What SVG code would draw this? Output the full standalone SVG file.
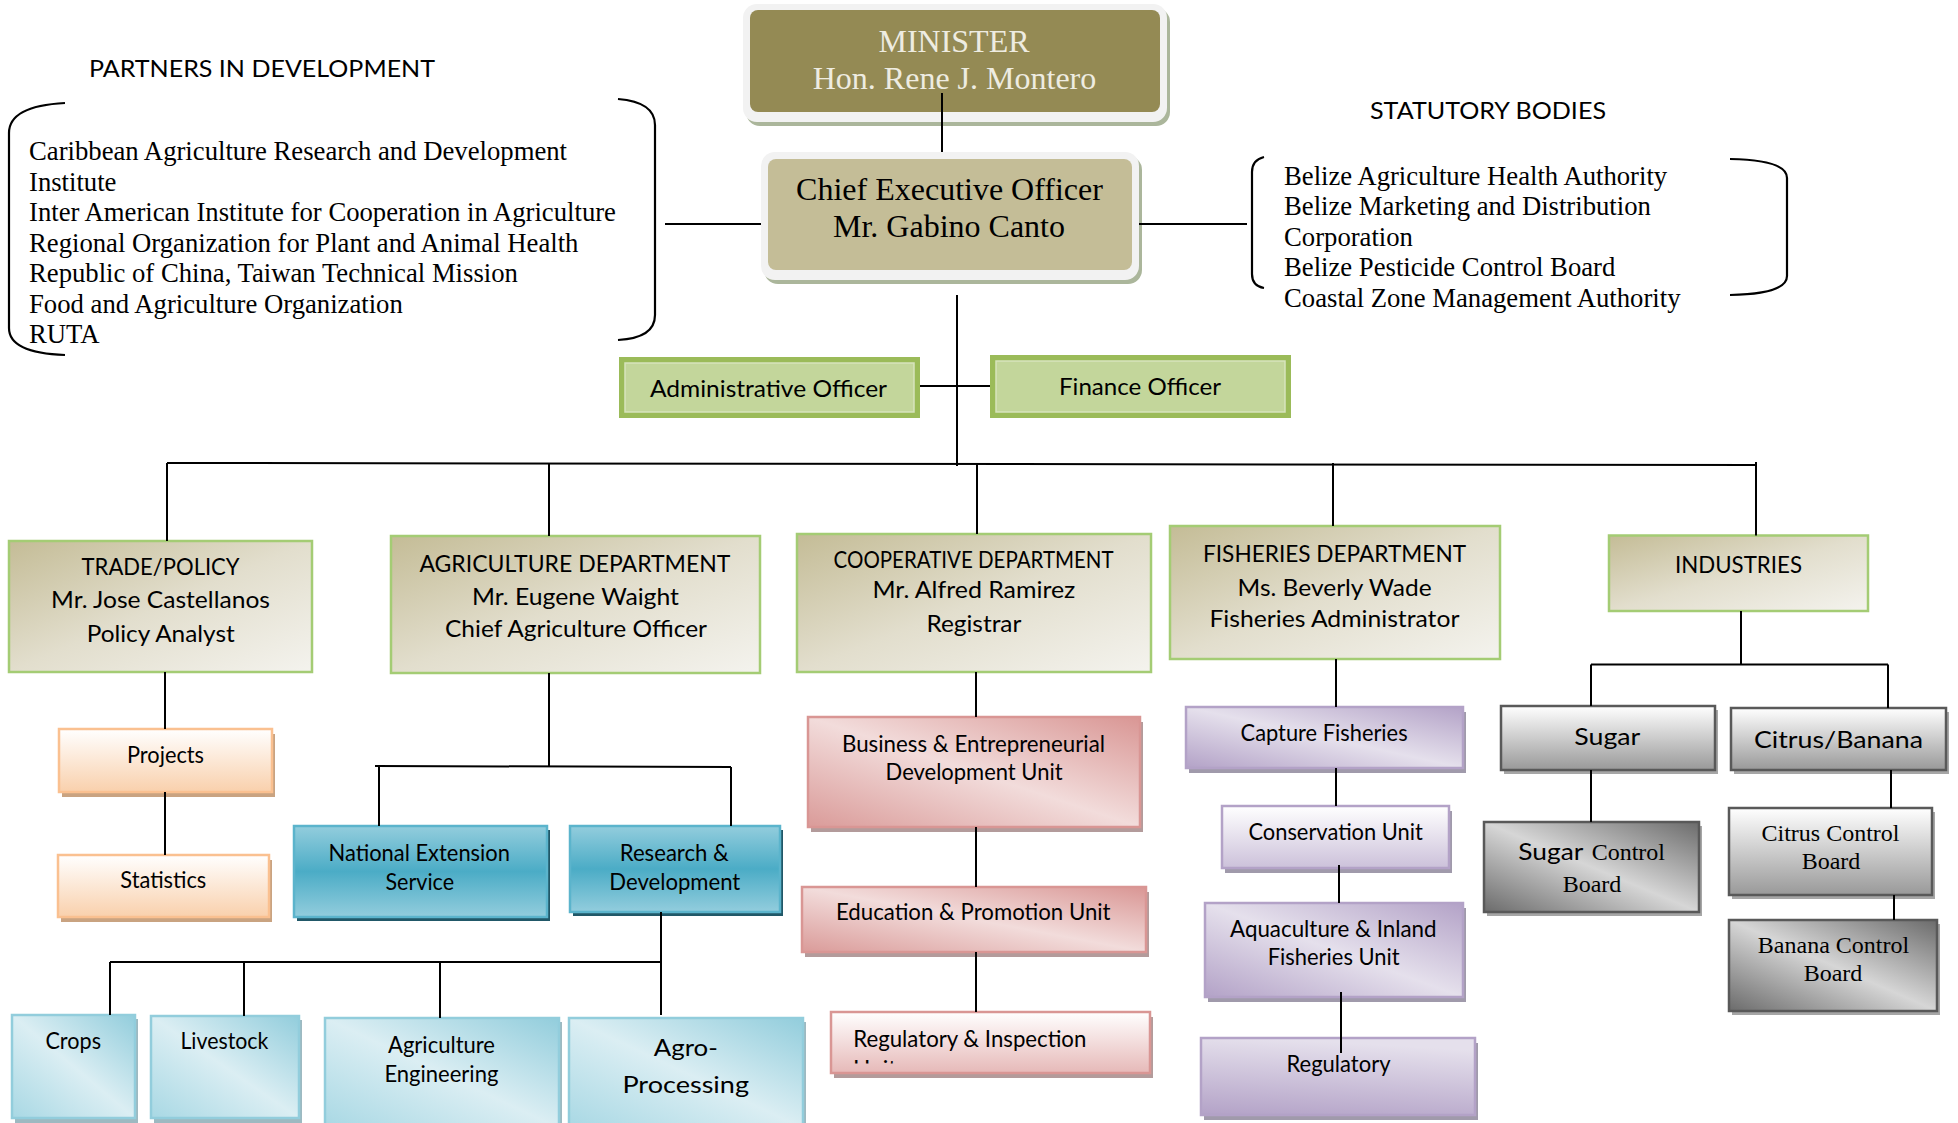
<svg xmlns="http://www.w3.org/2000/svg" width="1958" height="1123" viewBox="0 0 1958 1123">
<style>
.s{font-family:Lato,"Liberation Sans",sans-serif;fill:#000;font-size:23px}
.t{font-family:"Liberation Serif","Times New Roman",serif;fill:#000}
.ln{stroke:#000;stroke-width:2;fill:none}
.br{stroke:#000;stroke-width:2.2;fill:none}
.dept{fill:url(#gDept);stroke:#A4CC74;stroke-width:2.5}
.org{fill:url(#gOrg);stroke:#FAC090;stroke-width:2.5}
.orgS{fill:#C9A381}
.teal{fill:url(#gTeal);stroke:#5BB4CC;stroke-width:2.5}
.tealS{fill:#215868}
.lb{fill:url(#gLB);stroke:#92CDDC;stroke-width:2.5}
.lbS{fill:#9DB9C1}
.pk{fill:url(#gPk);stroke:#D99694;stroke-width:2.5}
.pkV{fill:url(#gPkV);stroke:#D99694;stroke-width:2.5}
.pkS{fill:#B39B9B}
.pu{fill:url(#gPu);stroke:#B3A2C7;stroke-width:2.5}
.puV{fill:url(#gPuV);stroke:#B3A2C7;stroke-width:2.5}
.puR{fill:url(#gPuR);stroke:#B3A2C7;stroke-width:2.5}
.puS{fill:#A09AAB}
.gv{fill:url(#gGV);stroke:#595959;stroke-width:2.5}
.gd{fill:url(#gGD);stroke:#595959;stroke-width:2.5}
.gS{fill:#A6A6A6}
.frame{fill:#F2F2F2}
.frameS{fill:#ABB69B}
.grn{fill:#9BBB59}
.grnI{fill:#C3D69B;stroke:#D7E4BD;stroke-width:1.5}
</style>
<defs>
<linearGradient id="gDept" x1="0" y1="0" x2="1" y2="1"><stop offset="0" stop-color="#C4BC96"/><stop offset="0.5" stop-color="#E2DECD"/><stop offset="1" stop-color="#F4F3EE"/></linearGradient>
<linearGradient id="gOrg" x1="0" y1="0" x2="0" y2="1"><stop offset="0" stop-color="#FFFFFF"/><stop offset="1" stop-color="#F9D0AC"/></linearGradient>
<linearGradient id="gTeal" x1="0" y1="0" x2="0" y2="1"><stop offset="0" stop-color="#93CDDD"/><stop offset="0.5" stop-color="#4BACC6"/><stop offset="1" stop-color="#93CDDD"/></linearGradient>
<linearGradient id="gLB" x1="1" y1="0" x2="0" y2="1"><stop offset="0" stop-color="#92CDDC"/><stop offset="0.5" stop-color="#DBEEF3"/><stop offset="1" stop-color="#A8D8E4"/></linearGradient>
<linearGradient id="gPk" x1="1" y1="0" x2="0" y2="1"><stop offset="0" stop-color="#D99694"/><stop offset="0.5" stop-color="#F2DCDB"/><stop offset="1" stop-color="#DA9B99"/></linearGradient>
<linearGradient id="gPkV" x1="0" y1="0" x2="0" y2="1"><stop offset="0" stop-color="#FFFFFF"/><stop offset="1" stop-color="#E6B9B8"/></linearGradient>
<linearGradient id="gPu" x1="1" y1="0" x2="0" y2="1"><stop offset="0" stop-color="#B3A2C7"/><stop offset="0.5" stop-color="#E5E0EC"/><stop offset="1" stop-color="#B3A2C7"/></linearGradient>
<linearGradient id="gPuV" x1="0" y1="0" x2="0" y2="1"><stop offset="0" stop-color="#FFFFFF"/><stop offset="1" stop-color="#CCC1DA"/></linearGradient>
<linearGradient id="gPuR" x1="0.2" y1="0" x2="0" y2="1"><stop offset="0" stop-color="#E5E0EC"/><stop offset="1" stop-color="#B3A2C7"/></linearGradient>
<linearGradient id="gGV" x1="0" y1="0" x2="0" y2="1"><stop offset="0" stop-color="#FFFFFF"/><stop offset="1" stop-color="#999999"/></linearGradient>
<linearGradient id="gGD" x1="1" y1="0" x2="0" y2="1"><stop offset="0" stop-color="#6B6B6B"/><stop offset="0.5" stop-color="#D6D6D6"/><stop offset="1" stop-color="#6B6B6B"/></linearGradient>
<clipPath id="clipReg"><rect x="831" y="1012" width="319" height="51.5"/></clipPath>
</defs>
<rect width="1958" height="1123" fill="#FFFFFF"/>

<g id="partners">
<text class="s" x="89" y="77" font-size="24.5" textLength="346" lengthAdjust="spacingAndGlyphs">PARTNERS IN DEVELOPMENT</text>
<path class="br" d="M65 103 Q9 106 9 133 L9 328 Q9 353 65 355"/>
<path class="br" d="M618 99 Q655 102 655 125 L655 315 Q655 338 618 340"/>
<g class="t" font-size="26.7">
<text x="29" y="160">Caribbean Agriculture Research and Development</text>
<text x="29" y="190.6">Institute</text>
<text x="29" y="221.1">Inter American Institute for Cooperation in Agriculture</text>
<text x="29" y="251.7">Regional Organization for Plant and Animal Health</text>
<text x="29" y="282.2">Republic of China, Taiwan Technical Mission</text>
<text x="29" y="312.8">Food and Agriculture Organization</text>
<text x="29" y="343.3">RUTA</text>
</g>
</g>

<g id="statutory">
<text class="s" x="1370" y="119" font-size="23.5" textLength="236" lengthAdjust="spacingAndGlyphs">STATUTORY BODIES</text>
<path class="br" d="M1264 157 Q1252 160 1252 172 L1252 274 Q1252 286 1264 288"/>
<path class="br" d="M1730 159 Q1787 160 1787 178 L1787 276 Q1787 294 1730 295"/>
<g class="t" font-size="26.7">
<text x="1284" y="185">Belize Agriculture Health Authority</text>
<text x="1284" y="215.4">Belize Marketing and Distribution</text>
<text x="1284" y="245.8">Corporation</text>
<text x="1284" y="276.2">Belize Pesticide Control Board</text>
<text x="1284" y="306.6">Coastal Zone Management Authority</text>
</g>
</g>

<g id="minister">
<rect class="frameS" x="746" y="8" width="424" height="118" rx="14"/>
<rect class="frame" x="743" y="4" width="424" height="118" rx="14"/>
<rect x="750" y="10" width="410" height="102" rx="8" fill="#948A54"/>
<text class="t" x="954" y="52" font-size="32" text-anchor="middle" style="fill:#EEECE1">MINISTER</text>
<text class="t" x="954.5" y="89" font-size="32" text-anchor="middle" style="fill:#EEECE1">Hon. Rene J. Montero</text>
</g>

<g id="ceo">
<rect class="frameS" x="764" y="156" width="378" height="128" rx="14"/>
<rect class="frame" x="761" y="152" width="378" height="128" rx="14"/>
<rect x="768" y="159" width="364" height="111" rx="8" fill="#C4BD97"/>
<text class="t" x="949.5" y="200" font-size="32" text-anchor="middle">Chief Executive Officer</text>
<text class="t" x="949" y="237" font-size="32" text-anchor="middle">Mr. Gabino Canto</text>
</g>

<g id="admin">
<rect class="grn" x="619" y="357" width="301" height="61"/>
<rect class="grnI" x="625" y="363" width="289" height="49"/>
<text class="s" x="650" y="397" textLength="237" lengthAdjust="spacingAndGlyphs">Administrative Officer</text>
</g>

<g id="finance">
<rect class="grn" x="990" y="355" width="301" height="63"/>
<rect class="grnI" x="996" y="361" width="289" height="51"/>
<text class="s" x="1059" y="395" textLength="162" lengthAdjust="spacingAndGlyphs">Finance Officer</text>
</g>

<g id="trade">
<rect class="dept" x="9" y="541" width="303" height="131"/>
<text class="s" x="81.6" y="575" font-size="22.5" textLength="158" lengthAdjust="spacingAndGlyphs">TRADE/POLICY</text>
<text class="s" x="51" y="608" textLength="219" lengthAdjust="spacingAndGlyphs">Mr. Jose Castellanos</text>
<text class="s" x="86.7" y="642" textLength="148" lengthAdjust="spacingAndGlyphs">Policy Analyst</text>
</g>

<g id="agriculture">
<rect class="dept" x="391" y="536" width="369" height="137"/>
<text class="s" x="419.4" y="572" textLength="311" lengthAdjust="spacingAndGlyphs">AGRICULTURE DEPARTMENT</text>
<text class="s" x="472" y="605" textLength="207" lengthAdjust="spacingAndGlyphs">Mr. Eugene Waight</text>
<text class="s" x="445" y="637" textLength="262" lengthAdjust="spacingAndGlyphs">Chief Agriculture Officer</text>
</g>

<g id="cooperative">
<rect class="dept" x="797" y="534" width="354" height="138"/>
<text class="s" x="833.6" y="568" font-size="21" textLength="280" lengthAdjust="spacingAndGlyphs">COOPERATIVE DEPARTMENT</text>
<text class="s" x="872.4" y="598" textLength="203" lengthAdjust="spacingAndGlyphs">Mr. Alfred Ramirez</text>
<text class="s" x="926.4" y="632" textLength="95" lengthAdjust="spacingAndGlyphs">Registrar</text>
</g>

<g id="fisheries">
<rect class="dept" x="1170" y="526" width="330" height="133"/>
<text class="s" x="1203" y="562" textLength="263" lengthAdjust="spacingAndGlyphs">FISHERIES DEPARTMENT</text>
<text class="s" x="1237.6" y="596" textLength="194" lengthAdjust="spacingAndGlyphs">Ms. Beverly Wade</text>
<text class="s" x="1209.4" y="627" textLength="250" lengthAdjust="spacingAndGlyphs">Fisheries Administrator</text>
</g>

<g id="industries">
<rect class="dept" x="1609" y="535.5" width="259" height="75.5"/>
<text class="s" x="1675" y="573" textLength="127" lengthAdjust="spacingAndGlyphs">INDUSTRIES</text>
</g>

<g id="projects">
<rect class="orgS" x="62" y="734" width="213" height="63"/>
<rect class="org" x="59" y="729" width="213" height="63"/>
<text class="s" x="127" y="763" font-size="22" textLength="77" lengthAdjust="spacingAndGlyphs">Projects</text>
</g>

<g id="statistics">
<rect class="orgS" x="61" y="860" width="211" height="62"/>
<rect class="org" x="58" y="855" width="211" height="62"/>
<text class="s" x="120.3" y="888" font-size="22" textLength="86" lengthAdjust="spacingAndGlyphs">Statistics</text>
</g>

<g id="nes">
<rect class="tealS" x="297" y="830" width="253" height="91"/>
<rect class="teal" x="294" y="826" width="253" height="91"/>
<text class="s" x="328.5" y="861" font-size="22.5" textLength="181.5" lengthAdjust="spacingAndGlyphs">National Extension</text>
<text class="s" x="385.5" y="890" font-size="22.5" textLength="68.5" lengthAdjust="spacingAndGlyphs">Service</text>
</g>

<g id="research">
<rect class="tealS" x="573" y="830" width="210" height="86"/>
<rect class="teal" x="570" y="826" width="210" height="86"/>
<text class="s" x="619.8" y="861" font-size="22.5" textLength="109" lengthAdjust="spacingAndGlyphs">Research &amp;</text>
<text class="s" x="609.3" y="890" font-size="22.5" textLength="131" lengthAdjust="spacingAndGlyphs">Development</text>
</g>

<g id="crops">
<rect class="lbS" x="15" y="1019" width="123" height="106"/>
<rect class="lb" x="12" y="1015" width="123" height="103"/>
<text class="s" x="45.5" y="1049" font-size="21.5" textLength="55.5" lengthAdjust="spacingAndGlyphs">Crops</text>
</g>

<g id="livestock">
<rect class="lbS" x="154" y="1020" width="148" height="105"/>
<rect class="lb" x="151" y="1016" width="148" height="102"/>
<text class="s" x="180.4" y="1049" font-size="21.5" textLength="88" lengthAdjust="spacingAndGlyphs">Livestock</text>
</g>

<g id="agengineering">
<rect class="lbS" x="328" y="1022" width="234" height="110"/>
<rect class="lb" x="325" y="1018" width="234" height="110"/>
<text class="s" x="388" y="1053" font-size="21.5" textLength="107" lengthAdjust="spacingAndGlyphs">Agriculture</text>
<text class="s" x="384.4" y="1082" font-size="21.5" textLength="114" lengthAdjust="spacingAndGlyphs">Engineering</text>
</g>

<g id="agroprocessing">
<rect class="lbS" x="572" y="1022" width="234" height="110"/>
<rect class="lb" x="569" y="1018" width="234" height="110"/>
<text class="s" x="653.8" y="1056" font-size="25" textLength="64" lengthAdjust="spacingAndGlyphs">Agro-</text>
<text class="s" x="622.4" y="1093" font-size="25" textLength="126.6" lengthAdjust="spacingAndGlyphs">Processing</text>
</g>

<g id="business">
<rect class="pkS" x="811" y="722" width="332" height="110"/>
<rect class="pk" x="808" y="717" width="332" height="110"/>
<text class="s" x="842" y="752" font-size="22" textLength="263" lengthAdjust="spacingAndGlyphs">Business &amp; Entrepreneurial</text>
<text class="s" x="885.6" y="780" font-size="22" textLength="177" lengthAdjust="spacingAndGlyphs">Development Unit</text>
</g>

<g id="education">
<rect class="pkS" x="805" y="892" width="344" height="65"/>
<rect class="pk" x="802" y="887" width="344" height="65"/>
<text class="s" x="836" y="920" font-size="22" textLength="274.6" lengthAdjust="spacingAndGlyphs">Education &amp; Promotion Unit</text>
</g>

<g id="reginspection">
<rect class="pkS" x="834" y="1017" width="319" height="61"/>
<rect class="pkV" x="831" y="1012" width="319" height="61"/>
<text class="s" x="853.3" y="1047" font-size="22" textLength="233" lengthAdjust="spacingAndGlyphs">Regulatory &amp; Inspection</text>
<text class="s" x="853.3" y="1076.5" font-size="22" clip-path="url(#clipReg)">Unit</text>
</g>

<g id="capture">
<rect class="puS" x="1189" y="712" width="277" height="61"/>
<rect class="pu" x="1186" y="707" width="277" height="61"/>
<text class="s" x="1240.6" y="741" font-size="22" textLength="167" lengthAdjust="spacingAndGlyphs">Capture Fisheries</text>
</g>

<g id="conservation">
<rect class="puS" x="1225" y="811" width="227" height="62"/>
<rect class="puV" x="1222" y="806" width="227" height="62"/>
<text class="s" x="1248.4" y="840" font-size="22" textLength="174.5" lengthAdjust="spacingAndGlyphs">Conservation Unit</text>
</g>

<g id="aquaculture">
<rect class="puS" x="1208" y="908" width="258" height="94"/>
<rect class="pu" x="1205" y="903" width="258" height="94"/>
<text class="s" x="1230" y="937" font-size="22" textLength="206.6" lengthAdjust="spacingAndGlyphs">Aquaculture &amp; Inland</text>
<text class="s" x="1267.7" y="965" font-size="22" textLength="132" lengthAdjust="spacingAndGlyphs">Fisheries Unit</text>
</g>

<g id="regulatory">
<rect class="puS" x="1204" y="1043" width="274" height="77"/>
<rect class="puR" x="1201" y="1038" width="274" height="77"/>
<text class="s" x="1286.5" y="1072" font-size="22" textLength="104" lengthAdjust="spacingAndGlyphs">Regulatory</text>
</g>

<g id="sugar">
<rect class="gS" x="1504" y="710" width="214" height="64"/>
<rect class="gv" x="1501" y="706" width="214" height="64"/>
<text class="s" x="1574.3" y="744.5" font-size="25" textLength="66" lengthAdjust="spacingAndGlyphs">Sugar</text>
</g>

<g id="citrusbanana">
<rect class="gS" x="1734" y="712" width="215" height="62"/>
<rect class="gv" x="1731" y="708" width="215" height="62"/>
<text class="s" x="1754" y="748" font-size="26" textLength="169" lengthAdjust="spacingAndGlyphs">Citrus/Banana</text>
</g>

<g id="sugarboard">
<rect class="gS" x="1487" y="826" width="215" height="90"/>
<rect class="gd" x="1484" y="822" width="215" height="90"/>
<text class="s" x="1518.3" y="860" font-size="25" textLength="65" lengthAdjust="spacingAndGlyphs">Sugar</text>
<text class="t" x="1591.7" y="860" font-size="24">Control</text>
<text class="t" x="1592" y="892" font-size="24" text-anchor="middle">Board</text>
</g>

<g id="citrusboard">
<rect class="gS" x="1732" y="812" width="203" height="87"/>
<rect class="gv" x="1729" y="808" width="203" height="87"/>
<text class="t" x="1830.5" y="841" font-size="24" text-anchor="middle">Citrus Control</text>
<text class="t" x="1831" y="869" font-size="24" text-anchor="middle">Board</text>
</g>

<g id="bananaboard">
<rect class="gS" x="1732" y="924" width="208" height="91"/>
<rect class="gd" x="1729" y="920" width="208" height="91"/>
<text class="t" x="1833.5" y="953" font-size="24" text-anchor="middle">Banana Control</text>
<text class="t" x="1833" y="981" font-size="24" text-anchor="middle">Board</text>
</g>

<g id="connectors" class="ln">
<path d="M942 93 V152"/>
<path d="M665 224 H761"/>
<path d="M1139 224 H1247"/>
<path d="M957 295 V466"/>
<path d="M920 386 H990"/>
<path d="M167 463 L1756 465"/>
<path d="M167 463 V541"/>
<path d="M549 463 V536"/>
<path d="M977 464 V534"/>
<path d="M1333 463 V526"/>
<path d="M1756 462 V535.5"/>
<path d="M165 672 V729"/>
<path d="M165 792 V855"/>
<path d="M549 673 V766"/>
<path d="M375 766 L731 767"/>
<path d="M379 766 V826"/>
<path d="M731 767 V826"/>
<path d="M661 912 V1015"/>
<path d="M110 962 H661"/>
<path d="M110 962 V1015"/>
<path d="M244 962 V1016"/>
<path d="M440 962 V1018"/>
<path d="M976 672 V717"/>
<path d="M976 827 V887"/>
<path d="M976 952 V1012"/>
<path d="M1336 659 V707"/>
<path d="M1336 768 V806"/>
<path d="M1339 865 V903"/>
<path d="M1341 992 V1053"/>
<path d="M1741 611 V664.6"/>
<path d="M1591 664.6 H1888"/>
<path d="M1591 664.6 V706"/>
<path d="M1888 664.6 V708"/>
<path d="M1591 770 V822"/>
<path d="M1891 770 V808"/>
<path d="M1894 895 V920"/>
</g>
</svg>
